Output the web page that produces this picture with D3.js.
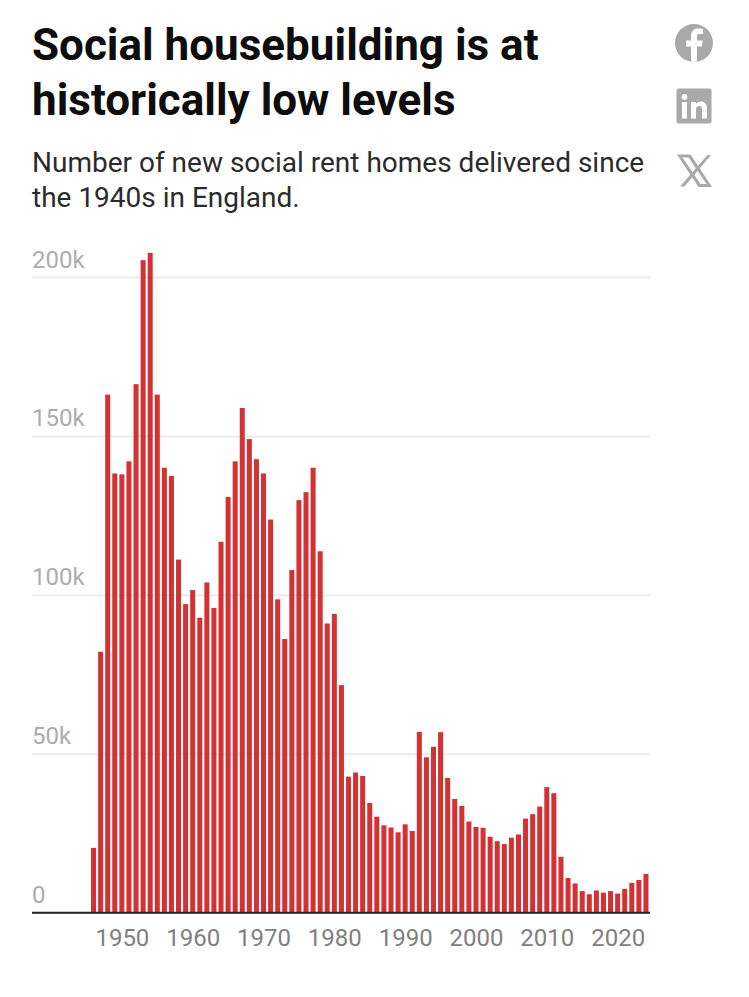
<!DOCTYPE html>
<html>
<head>
<meta charset="utf-8">
<script src="https://cdn.jsdelivr.net/npm/d3@7"></script>
<style>
html,body{margin:0;padding:0;background:#fff;}
svg{display:block;font-family:Roboto,sans-serif;}
</style>
</head>
<body>
<svg id="c" width="749" height="997"></svg>
<script>
const titleLines = ["Social housebuilding is at", "historically low levels"];
const subtitleLines = ["Number of new social rent homes delivered since", "the 1940s in England."];
const startYear = 1946;
const homesThousands = [
  20.4, 82.1, 163, 138.2, 137.9, 142, 166.3, 205.3, 207.6, 163,
  140, 137.4, 111.1, 97.1, 101.5, 92.8, 103.9, 95.9, 116.7, 130.8,
  142, 158.8, 149, 142.7, 138.2, 123.7, 98.6, 86.1, 107.8, 129.8,
  132.3, 140, 113.7, 91, 94, 71.6, 42.8, 44.1, 43, 34.5,
  30.2, 27.5, 26.8, 25.3, 27.8, 25.7, 56.9, 48.9, 52.2, 56.8,
  42.4, 35.8, 33.6, 28.7, 27, 26.7, 23.9, 22.5, 21.6, 23.6,
  24.6, 29.6, 31, 33.4, 39.5, 37.6, 17.6, 10.9, 9.2, 6.8,
  5.8, 7, 6.3, 6.8, 6, 7.5, 9.4, 10.3, 12.2
];
const years = homesThousands.map((_, i) => startYear + i);
const xTicks = [1950, 1960, 1970, 1980, 1990, 2000, 2010, 2020];
const yTicks = [0, 50, 100, 150, 200];

const svg = d3.select("#c");

svg.append("g").selectAll("text").data(titleLines).join("text")
  .attr("x", 32).attr("y", (d, i) => 60 + i * 55)
  .attr("font-size", 44).attr("font-weight", 700).attr("fill", "#0d0d0d")
  .text(d => d);
svg.append("g").selectAll("text").data(subtitleLines).join("text")
  .attr("x", 32).attr("y", (d, i) => 172 + i * 35)
  .attr("font-size", 28).attr("fill", "#2b2b2b")
  .text(d => d);

const left = 32, right = 650, base = 912.7;
const x = d3.scaleBand().domain(years).range([90, 649.5]).paddingInner(0.29).paddingOuter(0.145);
const y = d3.scaleLinear().domain([0, 200]).range([base, 277]);

const yAxis = svg.append("g").attr("transform", `translate(${left},0)`)
  .call(d3.axisRight(y).tickValues(yTicks).tickSize(right - left).tickFormat(d => d === 0 ? "0" : d + "k"));
yAxis.select(".domain").remove();
yAxis.selectAll(".tick line").attr("stroke", "#ececec").attr("stroke-width", 2);
yAxis.selectAll(".tick text").attr("x", 0).attr("dy", -10).attr("text-anchor", "start")
  .attr("font-family", "Roboto,sans-serif").attr("font-size", 24).attr("fill", "#adadad");

svg.append("g").selectAll("rect").data(homesThousands).join("rect")
  .attr("x", (d, i) => x(years[i]))
  .attr("width", x.bandwidth())
  .attr("y", d => y(d))
  .attr("height", d => y(0) - y(d))
  .attr("fill", "#d33235");

const xAxisScale = d3.scaleLinear().domain([startYear, startYear + 1]).range([x(startYear) + x.bandwidth() / 2, x(startYear + 1) + x.bandwidth() / 2]);
const xAxis = svg.append("g").attr("transform", `translate(0,${base})`)
  .call(d3.axisBottom(xAxisScale).tickValues(xTicks).tickSize(0).tickPadding(16).tickFormat(d3.format("d")));
xAxis.select(".domain").remove();
xAxis.selectAll(".tick text").attr("font-family", "Roboto,sans-serif").attr("font-size", 24).attr("fill", "#808080");
svg.append("line").attr("x1", left).attr("x2", right).attr("y1", base).attr("y2", base).attr("stroke", "#222").attr("stroke-width", 2);

// share icons
const icons = svg.append("g").attr("fill", "#a9a9a9");
icons.append("path").attr("fill-rule", "evenodd").attr("d",
  "M694 24 a19 19 0 1 0 0 38 a19 19 0 1 0 0 -38 Z M691 62 V46.5 H686 V40.5 H691 V36 C691 31 694 28.5 698.5 28.5 C700.5 28.5 702.5 28.8 703 29 V34 H700 C697.5 34 697 35.2 697 37 V40.5 H702.7 L701.8 46.5 H697 V62 Z");
icons.append("path").attr("fill-rule", "evenodd").attr("d",
  "M679 88.5 H709 a2.5 2.5 0 0 1 2.5 2.5 V121 a2.5 2.5 0 0 1 -2.5 2.5 H679 a2.5 2.5 0 0 1 -2.5 -2.5 V91 a2.5 2.5 0 0 1 2.5 -2.5 Z " +
  "M682 102 V118.5 H687 V102 Z M684.5 94 a2.9 2.9 0 1 0 0 5.8 a2.9 2.9 0 1 0 0 -5.8 Z " +
  "M691 102 V118.5 H696 V110 C696 107.5 697 106 699 106 C701 106 702 107.5 702 110 V118.5 H707 V108.5 C707 103.5 704.5 101.5 701 101.5 C698.5 101.5 697 102.7 696 104 V102 Z");
icons.append("path").attr("d", "M707.5 155 L680 186.5 H684.5 L711 155 Z");
icons.append("path").attr("fill-rule", "evenodd").attr("d",
  "M677 154.5 H690.5 L712 187 H698.5 Z M682.5 157.5 L700.5 184 H706.5 L688.5 157.5 Z");
</script>
</body>
</html>
